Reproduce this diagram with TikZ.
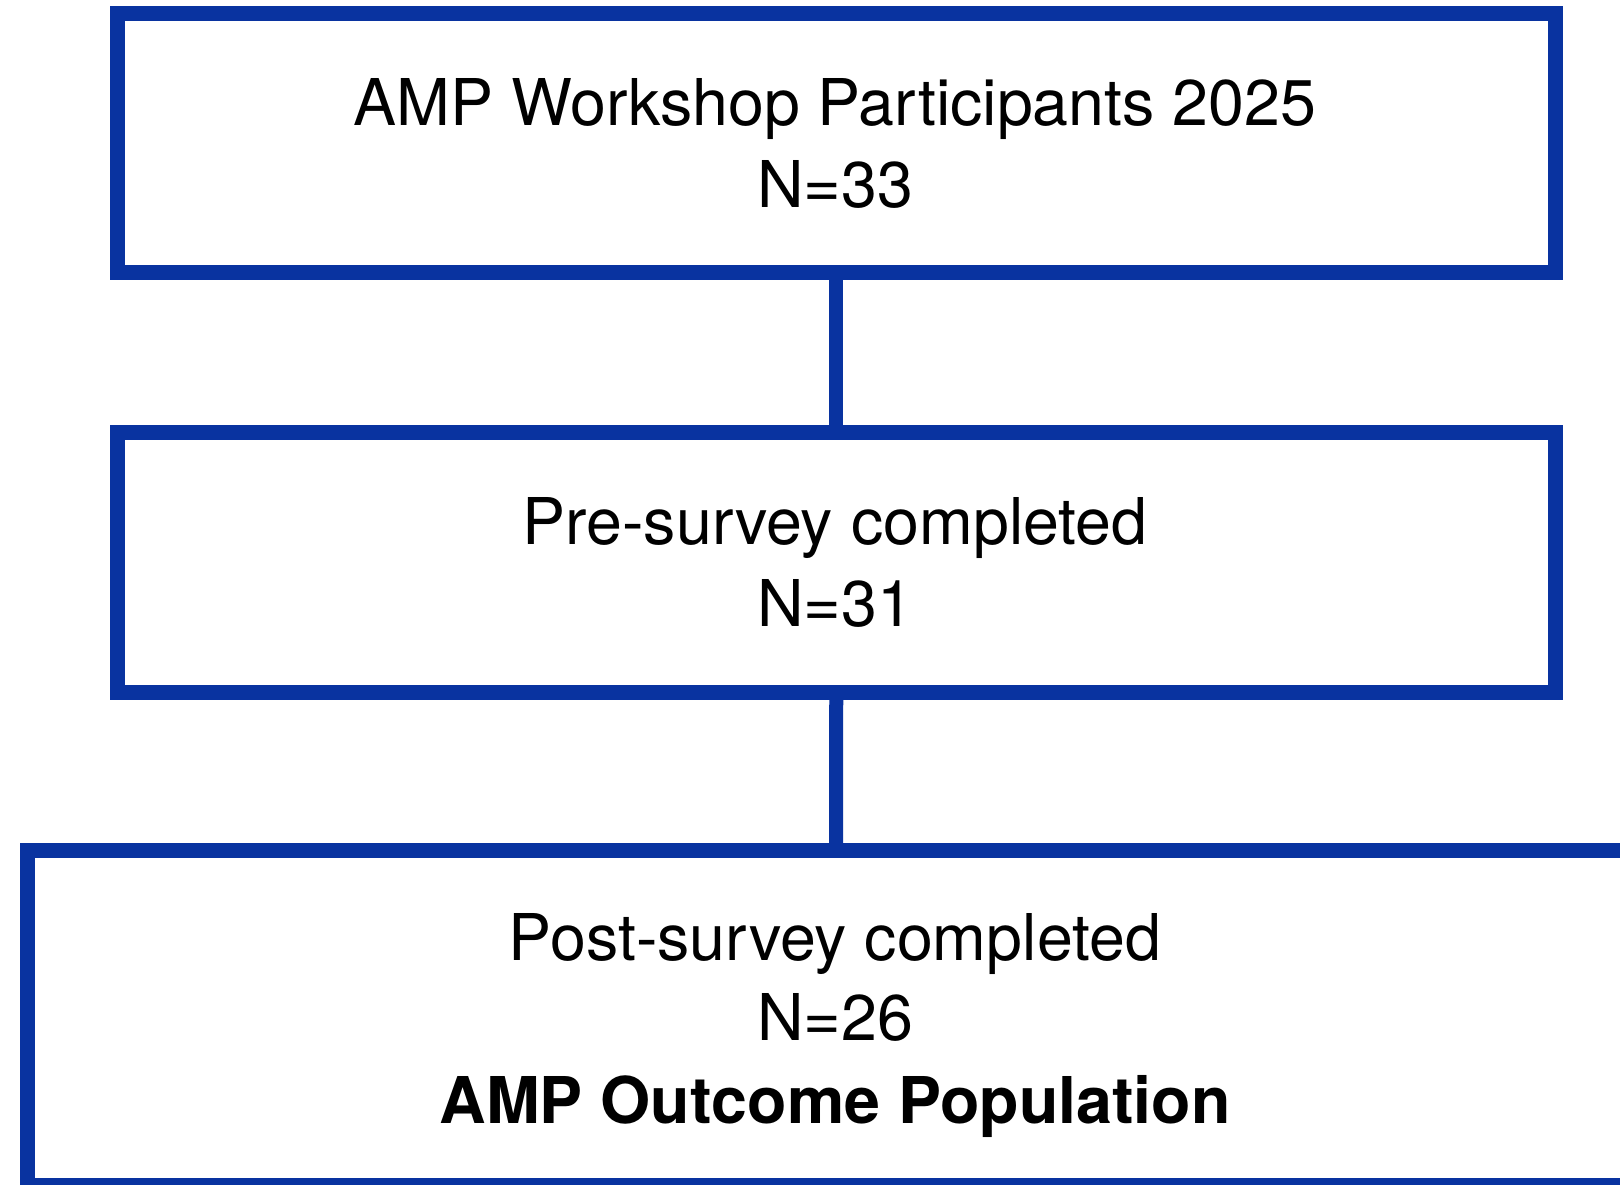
\documentclass[tikz,border=0pt]{standalone}
\usepackage{fontspec}
\setmainfont{TeX Gyre Heros}
\definecolor{boxblue}{RGB}{9,51,160}
\begin{document}
\begin{tikzpicture}[x=1pt,y=-1pt,
  flowbox/.style={draw=boxblue, line width=15pt, rectangle, inner sep=0pt},
  txt/.style={font=\fontsize{64.5}{78}\selectfont, anchor=base, inner sep=0pt, text=black},
  boldtxt/.style={font=\fontsize{64.5}{78}\selectfont\bfseries, anchor=base, inner sep=0pt, text=black},
  link/.style={draw=boxblue, line width=14pt}]
\useasboundingbox (0,0) rectangle (1620,1185);
\clip (0,0) rectangle (1620,1185);
\node[flowbox, minimum width=1437.5pt, minimum height=259pt] (b1) at (836.25,143) {};
\node[flowbox, minimum width=1437.5pt, minimum height=259.5pt] (b2) at (836.25,562.25) {};
\node[flowbox, minimum width=1617pt, minimum height=335pt] (b3) at (836,1018) {};
\draw[link] (b1.south) -- (b2.north);
\draw[link] (b2.south) -- (b3.north);
\node[txt] (t1a) at (835,126) {AMP Workshop Participants 2025};
\node[txt] (t1b) at (835,208) {N=33};
\node[txt] (t2a) at (835,544) {Pre-survey completed};
\node[txt] (t2b) at (835,626) {N=31};
\node[txt] (t3a) at (835,960) {Post-survey completed};
\node[txt] (t3b) at (835,1040) {N=26};
\node[boldtxt] (t3c) at (835,1123) {AMP Outcome Population};
\end{tikzpicture}
\end{document}
